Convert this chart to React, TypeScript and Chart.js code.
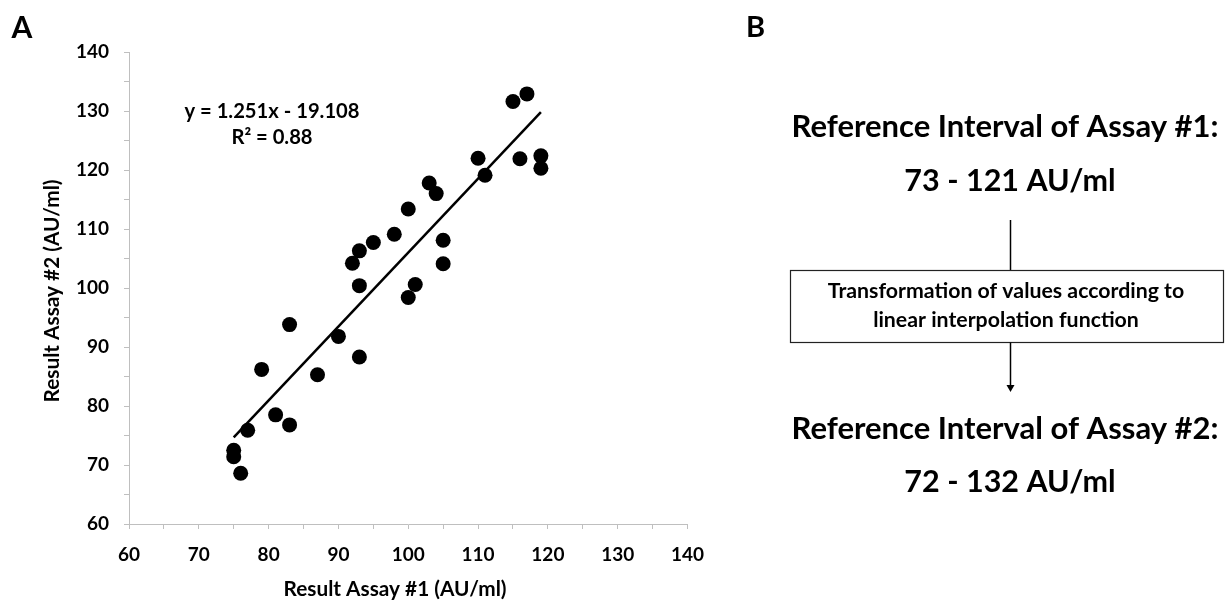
import React, { useEffect, useRef } from "react";
import { Chart, registerables } from "chart.js";

Chart.register(...registerables);

// Data
const assay1Values: number[] = [75, 75, 76, 77, 79, 81, 83, 83, 87, 90, 93, 93, 92, 93, 95, 98, 100, 103, 104, 100, 101, 105, 105, 110, 111, 115, 117, 116, 119, 119];
const assay2Values: number[] = [72.5, 71.4, 68.6, 75.9, 86.2, 78.5, 76.8, 93.8, 85.3, 91.8, 88.3, 100.4, 104.2, 106.3, 107.7, 109.1, 113.4, 117.8, 116.0, 98.4, 100.6, 104.1, 108.1, 122.0, 119.1, 131.6, 132.9, 121.9, 122.4, 120.3];
const trendX: number[] = [75, 119];
const trendY: number[] = [74.7, 129.8];
const axisMin = 60;
const axisMax = 140;
const tickStep = 5;
const labelStep = 10;

const xTitle = "Result Assay #1 (AU/ml)";
const yTitle = "Result Assay #2 (AU/ml)";
const equationLines = ["y = 1.251x - 19.108", "R\u00b2 = 0.88"];
const panelA = "A";
const panelB = "B";
const interval1Title = "Reference Interval of Assay #1:";
const interval1Value = "73 - 121 AU/ml";
const boxLines = ["Transformation of values according to", "linear interpolation function"];
const interval2Title = "Reference Interval of Assay #2:";
const interval2Value = "72 - 132 AU/ml";

const FONT = "Lato, 'Open Sans', sans-serif";
const TEXT = "#000000";
const AXIS = "#bfbfbf";

const textPlugin = {
  id: "panelText",
  afterDraw(chart: any) {
    const ctx: CanvasRenderingContext2D = chart.ctx;
    ctx.save();
    ctx.fillStyle = TEXT;
    ctx.textAlign = "center";
    ctx.textBaseline = "alphabetic";

    const txt = (s: string, x: number, y: number, size: number) => {
      ctx.font = `bold ${size}px ${FONT}`;
      ctx.fillText(s, x, y);
    };

    // panel letters
    txt(panelA, 22, 37.5, 30);
    txt(panelB, 755.5, 36.5, 29);

    // axis titles
    txt(xTitle, 395, 595.5, 20.8);
    ctx.save();
    ctx.translate(59, 291);
    ctx.rotate(-Math.PI / 2);
    txt(yTitle, 0, 0, 20.8);
    ctx.restore();

    // regression equation
    txt(equationLines[0], 272, 117.5, 20.2);
    txt(equationLines[1], 272, 144, 20.2);

    // panel B
    txt(interval1Title, 1005, 137, 31);
    txt(interval1Value, 1010, 190.5, 30.5);
    txt(boxLines[0], 1006, 297.5, 21.3);
    txt(boxLines[1], 1006, 326.5, 21.3);
    txt(interval2Title, 1005, 438.8, 31);
    txt(interval2Value, 1010, 492, 30.5);

    // connector and box
    ctx.strokeStyle = "#000000";
    ctx.lineWidth = 1.5;
    ctx.beginPath();
    ctx.moveTo(1010.5, 220);
    ctx.lineTo(1010.5, 270.5);
    ctx.stroke();

    ctx.lineWidth = 1.2;
    ctx.strokeStyle = "#222222";
    ctx.strokeRect(790.5, 270.5, 433, 72);

    ctx.strokeStyle = "#000000";
    ctx.lineWidth = 1.5;
    ctx.beginPath();
    ctx.moveTo(1010.5, 342.5);
    ctx.lineTo(1010.5, 387);
    ctx.stroke();
    ctx.beginPath();
    ctx.moveTo(1006.5, 385);
    ctx.lineTo(1014.5, 385);
    ctx.lineTo(1010.5, 392);
    ctx.closePath();
    ctx.fill();

    ctx.restore();
  },
};

export default function App() {
  const canvasRef = useRef<HTMLCanvasElement | null>(null);

  useEffect(() => {
    if (!canvasRef.current) return;
    const points = assay1Values.map((x, i) => ({ x, y: assay2Values[i] }));
    const trend = trendX.map((x, i) => ({ x, y: trendY[i] }));

    const tickFont = { family: FONT, size: 19, weight: "bold" as const };
    const labelCb = (v: any) => (Number(v) % labelStep === 0 ? String(v) : "");

    const chart = new Chart(canvasRef.current, {
      type: "scatter",
      data: {
        datasets: [
          {
            type: "line",
            data: trend,
            borderColor: "#000000",
            borderWidth: 2.5,
            pointRadius: 0,
            showLine: true,
            fill: false,
          } as any,
          {
            data: points,
            backgroundColor: "#000000",
            borderColor: "#000000",
            borderWidth: 0,
            pointRadius: 7.5,
            pointHoverRadius: 7.5,
          },
        ],
      },
      options: {
        responsive: false,
        animation: false,
        devicePixelRatio: 1,
        layout: { padding: { left: 0, top: 52, right: 541.5, bottom: 0 } },
        plugins: {
          legend: { display: false },
          tooltip: { enabled: false },
          title: { display: false },
        },
        scales: {
          x: {
            type: "linear",
            min: axisMin,
            max: axisMax,
            ticks: {
              stepSize: tickStep,
              autoSkip: false,
              maxRotation: 0,
              font: tickFont,
              color: TEXT,
              padding: 14,
              callback: labelCb,
            },
            grid: { drawOnChartArea: false, drawTicks: true, tickLength: 5, color: AXIS },
            border: { color: AXIS, width: 1 },
            afterFit: (s: any) => {
              s.height = 79;
            },
          },
          y: {
            type: "linear",
            min: axisMin,
            max: axisMax,
            ticks: {
              stepSize: tickStep,
              autoSkip: false,
              font: tickFont,
              color: TEXT,
              padding: 15,
              callback: labelCb,
            },
            grid: { drawOnChartArea: false, drawTicks: true, tickLength: 5, color: AXIS },
            border: { color: AXIS, width: 1 },
            afterFit: (s: any) => {
              s.width = 129;
            },
          },
        },
      },
      plugins: [textPlugin],
    });
    return () => chart.destroy();
  }, []);

  return (
    <div style={{ position: "absolute", left: 0, top: 0, width: 1229, height: 603, background: "#ffffff" }}>
      <canvas ref={canvasRef} width={1229} height={603} />
    </div>
  );
}
